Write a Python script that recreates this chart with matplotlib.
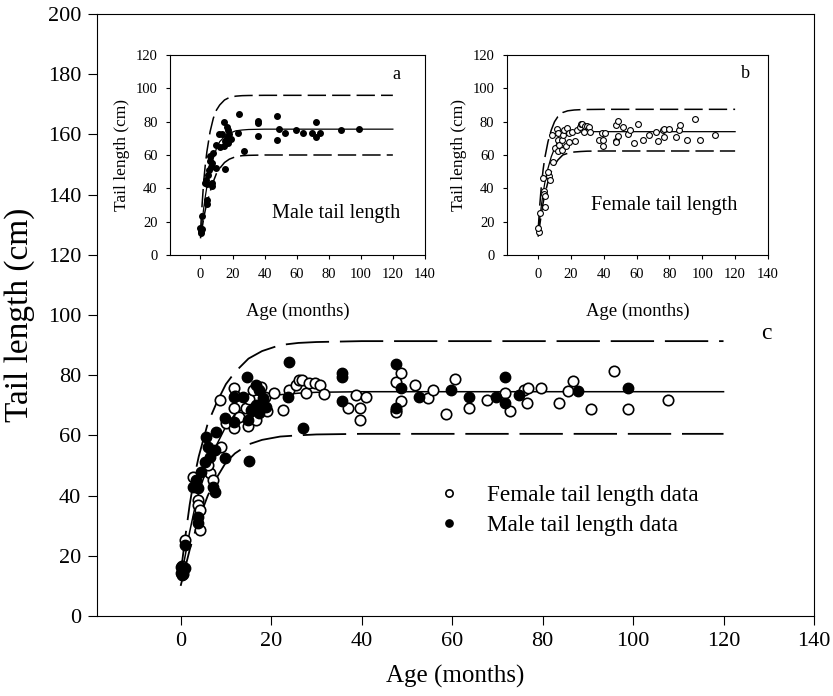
import matplotlib
matplotlib.use("Agg")
import matplotlib.pyplot as plt

plt.rcParams['font.family'] = ['Liberation Serif', 'DejaVu Serif']

# growth curves (age in months)
curve_age = [0, 1, 2, 3, 4, 6, 8, 10, 12, 15, 18, 22, 26, 30, 40, 60, 120]

all_mean = [12, 20, 28, 35, 41, 50, 57, 63, 67, 70, 72, 73.5, 74, 74.3, 74.5, 74.5, 74.5]
all_upper = [14, 26, 37, 46, 53, 64, 71, 77, 81, 85.5, 88, 90, 90.7, 91, 91.3, 91.3, 91.3]
all_lower = [10, 16, 22, 27, 32, 40, 46, 51, 54, 57, 58.5, 59.6, 60, 60.3, 60.5, 60.5, 60.5]

male_mean = [12, 20, 28, 35, 41, 51, 58, 64, 68, 71, 73, 74.5, 75, 75.3, 75.5, 75.5, 75.5]
male_upper = [14, 30, 44, 54, 62, 74, 82, 87, 90, 93, 94.5, 95.3, 95.6, 95.7, 95.8, 95.8, 95.8]
male_lower = [10, 16, 22, 27, 31, 38, 44, 49, 52, 55.5, 57.5, 59, 59.6, 59.8, 60, 60, 60]

female_mean = [13, 22, 30, 37, 43, 52, 59, 64, 68, 71, 72.5, 73.5, 73.8, 74, 74, 74, 74]
female_upper = [15, 30, 42, 51, 58, 68, 75, 80, 83, 85.5, 86.5, 87, 87.2, 87.3, 87.4, 87.4, 87.4]
female_lower = [11, 18, 25, 31, 36, 44, 50, 54, 57, 60, 61, 61.8, 62.1, 62.3, 62.4, 62.4, 62.4]

male_age = [0.0, 0.5, 0.1, 0.9, 0.3, 0.9, 3.8, 3.8, 2.7, 3.5, 3.8, 4.6, 5.3, 6.4, 5.7,
            6.0, 7.5, 7.9, 7.1, 7.5, 9.7, 9.7, 11.7, 11.9, 13.7, 14.8, 14.6, 15.6, 16.7,
            16.7, 17.4, 17.4, 18.1, 18.9, 15.0, 23.9, 23.7, 27.0, 35.6, 35.6, 35.6, 47.7,
            48.8, 47.7, 52.7, 59.7, 63.7, 69.7, 71.8, 71.8, 74.7, 87.8, 98.8]
male_tail = [16.4, 15.3, 14.2, 15.8, 13.5, 23.6, 33.0, 30.8, 43.0, 45.2, 42.4, 47.9, 51.3,
             52.9, 59.6, 56.2, 55.1, 61.2, 43.0, 41.3, 52.4, 65.7, 72.7, 64.6, 72.7, 65.1,
             79.5, 68.4, 76.7, 70.1, 75.1, 67.3, 72.3, 69.5, 51.6, 84.5, 72.9, 62.3, 80.6,
             79.3, 71.4, 83.6, 75.6, 69.0, 72.9, 74.9, 72.9, 72.9, 79.5, 70.9, 73.4, 74.8,
             75.6]

female_age = [0.5, 0.2, 0.9, 2.7, 3.8, 3.8, 4.2, 4.2, 6.4, 7.1, 9.0, 6.0, 8.6, 10.0, 11.7,
              11.9, 11.9, 12.0, 13.0, 14.5, 14.8, 15.0, 16.7, 16.0, 17.8, 18.7, 19.0, 20.7,
              22.7, 23.9, 25.6, 26.2, 26.8, 27.7, 28.3, 29.8, 30.9, 31.7, 36.9, 38.7, 39.7,
              39.7, 40.9, 47.7, 47.7, 48.7, 47.7, 48.7, 51.8, 54.7, 55.8, 58.7, 60.6, 63.7,
              67.8, 71.8, 72.8, 75.8, 76.8, 76.6, 79.7, 83.7, 85.6, 86.7, 90.7, 95.7, 98.8,
              107.8]
female_tail = [14.0, 16.5, 25.2, 46.3, 38.5, 36.9, 28.6, 35.2, 47.4, 45.2, 56.0, 50.0, 71.8,
               64.0, 75.6, 69.0, 62.4, 73.0, 66.0, 69.0, 63.1, 72.0, 65.1, 75.1, 76.2, 72.9,
               68.0, 74.0, 68.4, 74.9, 76.7, 78.4, 78.4, 74.0, 77.3, 77.5, 76.7, 73.8, 69.0,
               73.4, 69.0, 65.1, 72.9, 68.4, 67.9, 71.4, 77.8, 80.6, 76.7, 72.3, 75.1, 67.1,
               78.6, 69.0, 71.8, 74.0, 68.1, 75.1, 75.8, 70.9, 75.6, 70.9, 74.8, 78.1, 68.8,
               81.4, 68.8, 71.8]

xticks = [0, 20, 40, 60, 80, 100, 120, 140]

fig = plt.figure(figsize=(8.33, 6.96), dpi=100)

# main panel c
ax = fig.add_axes([0.1164, 0.115, 0.8608, 0.865])
ax.plot(curve_age, all_mean, color='black', lw=1.1)
ax.plot(curve_age, all_upper, color='black', lw=1.3, dashes=(24, 6))
ax.plot(curve_age, all_lower, color='black', lw=1.3, dashes=(24, 6))
ax.plot(female_age, female_tail, 'o', mfc='white', mec='black', mew=1.2, ms=7.5,
        label='Female tail length data')
ax.plot(male_age, male_tail, 'o', mfc='black', mec='black', ms=7.5,
        label='Male tail length data')
ax.set_xlim(-18.5, 140)
ax.set_ylim(0, 200)
ax.set_xticks(xticks)
ax.set_yticks(range(0, 201, 20))
ax.tick_params(direction='out', length=6.5, labelsize=16, pad=5, top=False, right=False)
ax.set_xlabel('Age (months)', fontsize=18, labelpad=10)
ax.set_ylabel('Tail length (cm)', fontsize=24, labelpad=9)
ax.text(129.5, 94, 'c', fontsize=17, ha='center', va='center')
ax.legend(loc='upper left', bbox_to_anchor=(0.445, 0.252), frameon=False,
          fontsize=16.7, markerscale=0.7, handlelength=1.0, handletextpad=1.15,
          labelspacing=0.35)


def inset(rect, age, tail, mean, upper, lower, filled, note, note_xy, letter, letter_xy):
    a = fig.add_axes(rect)
    a.plot(curve_age, mean, color='black', lw=0.9)
    a.plot(curve_age, upper, color='black', lw=1.1, dashes=(12, 4))
    a.plot(curve_age, lower, color='black', lw=1.1, dashes=(12, 4))
    if filled:
        a.plot(age, tail, 'o', mfc='black', mec='black', ms=4)
    else:
        a.plot(age, tail, 'o', mfc='white', mec='black', mew=0.8, ms=4.2)
    a.set_xlim(-19, 140)
    a.set_ylim(0, 120)
    a.set_xticks(xticks)
    a.set_yticks(range(0, 121, 20))
    a.tick_params(direction='out', length=3, labelsize=10.5, pad=6)
    a.set_xlabel('Age (months)', fontsize=13.5, labelpad=16)
    a.set_ylabel('Tail length (cm)', fontsize=12.5, labelpad=4)
    a.text(note_xy[0], note_xy[1], note, fontsize=14.6, ha='center', va='center')
    a.text(letter_xy[0], letter_xy[1], letter, fontsize=13, ha='center', va='center')
    return a


inset([0.2041, 0.6336, 0.306, 0.2874], male_age, male_tail,
      male_mean, male_upper, male_lower, True, 'Male tail length', (84.6, 25),
      'a', (122.5, 108))
inset([0.6086, 0.6336, 0.3133, 0.2874], female_age, female_tail,
      female_mean, female_upper, female_lower, False, 'Female tail length', (76.7, 30),
      'b', (126, 109))

fig.savefig('out.png', dpi=100)
